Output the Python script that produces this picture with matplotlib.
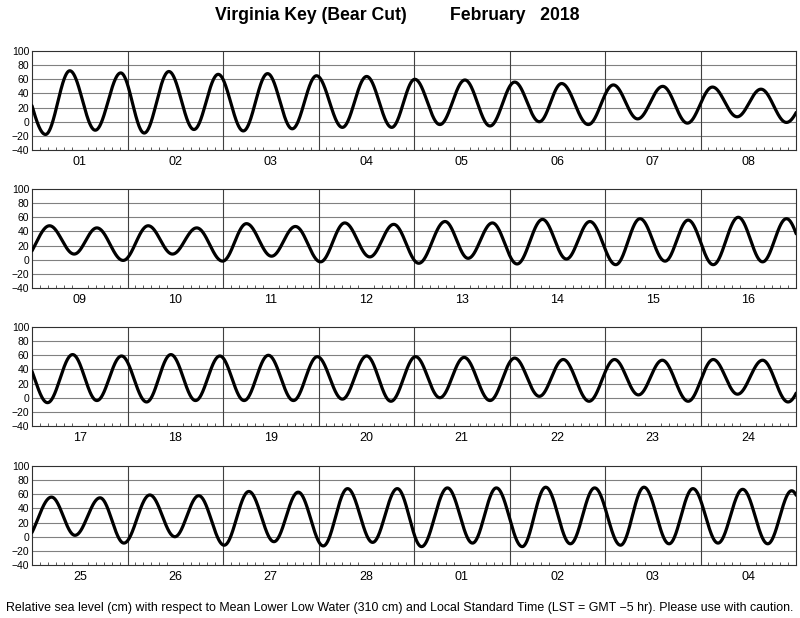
import numpy as np
import matplotlib
matplotlib.use("Agg")
import matplotlib.pyplot as plt

plt.rcParams['font.family'] = ['Liberation Sans', 'DejaVu Sans']

title_station = "Virginia Key (Bear Cut)"
title_month = "February   2018"
footnote = ("Relative sea level (cm) with respect to Mean Lower Low Water (310 cm) "
            "and Local Standard Time (LST = GMT \u22125 hr). Please use with caution.")

# day labels for each of the 4 panels (8 days each)
day_labels = [
    ["01", "02", "03", "04", "05", "06", "07", "08"],
    ["09", "10", "11", "12", "13", "14", "15", "16"],
    ["17", "18", "19", "20", "21", "22", "23", "24"],
    ["25", "26", "27", "28", "01", "02", "03", "04"],
]

# tide extremes: time in hours since Feb 01 00:00 LST, height in cm
p1_times = [-3.8, 3.4, 9.5, 15.9, 22.3, 28.2, 34.4, 40.7, 46.8, 53.1, 59.2, 65.4, 71.5,
            78.0, 84.1, 90.4, 96.2, 102.5, 108.8, 115.1, 121.3, 127.5, 133.1, 139.8,
            146.1, 152.2, 158.5, 164.7, 171.0, 177.2, 183.2, 189.6]
p1_heights = [71, -18, 72, -12, 69, -16, 71, -11, 67, -13, 68, -10, 65,
              -8, 64, -8, 60, -4, 59, -6, 56, 0, 54, -4,
              52, 4, 50, -2, 49, 7, 46, -1]

p2_times = [4.4, 10.6, 16.3, 22.9, 29.2, 35.3, 41.4, 47.9, 53.9, 60.2, 66.2, 72.5,
            78.6, 84.9, 90.9, 97.2, 103.8, 109.6, 115.7, 121.9, 128.3, 134.3, 140.2,
            146.7, 152.8, 159.1, 164.9, 171.2, 177.5, 183.6, 189.6]
p2_heights = [48, 8, 45, -1, 48, 8, 45, -2, 51, 5, 47, -3,
              52, 4, 50, -5, 54, 2, 52, -6, 57, 1, 54,
              -7, 58, -2, 56, -7, 60, -3, 58]

p3_times = [3.9, 10.2, 16.3, 22.5, 28.8, 34.9, 41.1, 47.2, 53.3, 59.4, 65.7, 71.7,
            78.0, 84.1, 90.2, 96.4, 102.5, 108.6, 115.1, 121.3, 127.5, 133.5, 140.0,
            146.4, 152.4, 158.4, 164.9, 171.2, 177.3, 183.6, 190.0]
p3_heights = [-7, 61, -4, 59, -6, 61, -4, 59, -4, 60, -4, 58,
              -2, 59, -5, 58, 0, 57, -4, 56, 2, 54, -5,
              54, 4, 53, -5, 54, 5, 53, -6]

p4_times = [4.9, 10.8, 17.1, 23.1, 29.6, 35.9, 41.9, 48.3, 54.5, 60.8, 66.9, 73.2,
            79.3, 85.6, 91.8, 97.9, 104.4, 110.7, 116.7, 123.2, 129.1, 135.3, 141.4,
            147.9, 153.8, 160.1, 166.1, 172.4, 178.6, 184.9, 190.9, 197.0]
p4_heights = [56, 2, 55, -9, 59, 0, 58, -12, 64, -7, 63, -13,
              68, -8, 68, -14, 69, -9, 69, -14, 70, -10, 69,
              -12, 70, -10, 68, -9, 67, -10, 65, -10]

panel_hours = 192  # 8 days per panel
all_t = []
all_h = []
for k, (tt, hh) in enumerate([(p1_times, p1_heights), (p2_times, p2_heights),
                              (p3_times, p3_heights), (p4_times, p4_heights)]):
    all_t += [t + k * panel_hours for t in tt]
    all_h += list(hh)
all_t = np.array(all_t, dtype=float)
all_h = np.array(all_h, dtype=float)

# smooth cosine curve between successive extremes (how a tide curve is drawn)
tt = np.arange(all_t[0], all_t[-1], 0.05)
idx = np.clip(np.searchsorted(all_t, tt, side='right') - 1, 0, len(all_t) - 2)
t0, t1 = all_t[idx], all_t[idx + 1]
h0, h1 = all_h[idx], all_h[idx + 1]
f = (tt - t0) / (t1 - t0)
curve = h0 + (h1 - h0) * (1 - np.cos(np.pi * f)) / 2

W, H = 800, 618
fig = plt.figure(figsize=(W / 100, H / 100), dpi=100)

tops = [51, 189, 327, 466]
ax_h = 99
left_px, right_px = 32, 796

yticks = [-40, -20, 0, 20, 40, 60, 80, 100]
ylabels = ["\u221240", "\u221220", "0", "20", "40", "60", "80", "100"]

for k in range(4):
    ax = fig.add_axes([left_px / W, 1 - (tops[k] + ax_h) / H,
                       (right_px - left_px) / W, ax_h / H])
    start = k * panel_hours
    m = (tt >= start - 1) & (tt <= start + panel_hours + 1)
    ax.plot(tt[m] - start, curve[m], color='black', lw=2.3, solid_capstyle='round', zorder=3)
    ax.set_xlim(0, panel_hours)
    ax.set_ylim(-40, 100)
    for y in yticks[1:-1]:
        ax.axhline(y, color='#808080', lw=0.8, zorder=1)
    for d in range(1, 8):
        ax.axvline(d * 24, color='#404040', lw=0.8, zorder=1)
    ax.set_yticks(yticks)
    ax.set_yticklabels(ylabels, fontsize=7.5)
    ax.tick_params(axis='y', length=0, pad=2)
    ax.set_xticks([d * 24 + 12 for d in range(8)])
    ax.set_xticklabels(day_labels[k], fontsize=9)
    ax.tick_params(axis='x', which='major', length=0, pad=4.5)
    ax.set_xticks(np.arange(0, panel_hours + 1, 2), minor=True)
    ax.tick_params(axis='x', which='minor', direction='in', length=2.5, width=0.6,
                   color='#404040', top=False)
    for s in ax.spines.values():
        s.set_linewidth(0.8)
        s.set_color('#303030')

fig.text(215 / W, 1 - 16 / H, title_station, fontsize=12.7, fontweight='bold',
         ha='left', va='center')
fig.text(450 / W, 1 - 16 / H, title_month, fontsize=12.7, fontweight='bold',
         ha='left', va='center')
fig.text(400 / W, 1 - 608 / H, footnote, fontsize=8.9, ha='center', va='center')

fig.savefig("out.png", dpi=100)
